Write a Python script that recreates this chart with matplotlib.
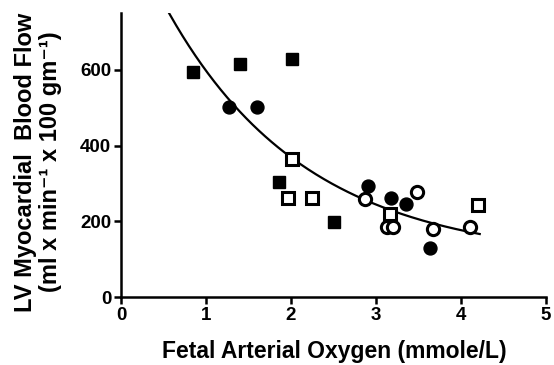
import numpy as np
import matplotlib
matplotlib.use("Agg")
import matplotlib.pyplot as plt

plt.rcParams['font.family'] = ['Liberation Sans', 'DejaVu Sans']
plt.rcParams['font.weight'] = 'bold'

# data
filled_sq_x = [0.85, 1.40, 2.01, 1.86, 2.51]
filled_sq_y = [595, 615, 630, 305, 199]

filled_ci_x = [1.27, 1.60, 2.91, 3.18, 3.35, 3.64]
filled_ci_y = [503, 503, 293, 261, 246, 130]

open_sq_x = [2.01, 1.96, 2.25, 3.16, 4.20]
open_sq_y = [364, 263, 263, 219, 243]

open_ci_x = [2.87, 3.48, 3.13, 3.20, 3.67, 4.11]
open_ci_y = [258, 278, 184, 184, 181, 186]

# one phase exponential decay fit (parameters)
y0 = 1019
plateau = 96
k = 0.609
curve_x = np.linspace(0.5, 4.22, 200)
curve_y = (y0 - plateau) * np.exp(-k * curve_x) + plateau

fig = plt.figure(figsize=(5.54, 3.65), dpi=100)
ax = fig.add_axes([0.2184, 0.186, 0.7672, 0.778])

ax.plot(curve_x, curve_y, color="black", lw=1.6, zorder=2)
ax.plot(filled_sq_x, filled_sq_y, "s", color="black", ms=9.3, zorder=3, clip_on=False)
ax.plot(filled_ci_x, filled_ci_y, "o", color="black", ms=9.3, zorder=3, clip_on=False)
ax.plot(open_sq_x, open_sq_y, "s", mfc="white", mec="black", mew=2.2, ms=8.8, zorder=3)
ax.plot(open_ci_x, open_ci_y, "o", mfc="white", mec="black", mew=2.2, ms=8.8, zorder=3)

ax.set_xlim(0, 5)
ax.set_ylim(0, 750)
ax.set_xticks([0, 1, 2, 3, 4, 5])
ax.set_yticks([0, 200, 400, 600])

for s in ["top", "right"]:
    ax.spines[s].set_visible(False)
for s in ["left", "bottom"]:
    ax.spines[s].set_linewidth(1.8)
ax.tick_params(width=1.8, length=5, labelsize=13.5, pad=2)
for lbl in ax.get_xticklabels() + ax.get_yticklabels():
    lbl.set_fontweight("bold")

fig.text(0.5 * (160 + 508) / 554, 1 - 358 / 365, "Fetal Arterial Oxygen (mmole/L)",
         fontsize=16.5, fontweight="bold", ha="center", va="baseline")
fig.text(38 / 554, 1 - 162 / 365,
         "LV Myocardial  Blood Flow\n(ml x min\u207b\u00b9 x 100 gm\u207b\u00b9)",
         fontsize=17, fontweight="bold", rotation=90, ha="center", va="center",
         multialignment="center", linespacing=1.15)

fig.savefig("out.png", dpi=100)
